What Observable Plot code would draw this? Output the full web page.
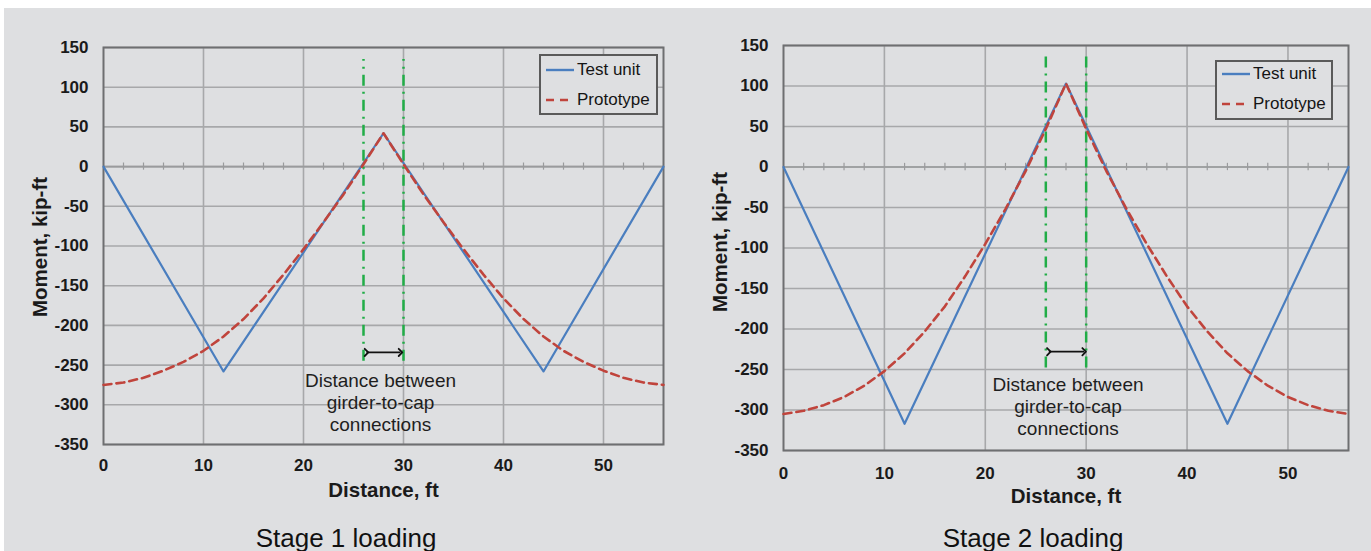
<!DOCTYPE html>
<html>
<head>
<meta charset="utf-8">
<script src="https://cdn.jsdelivr.net/npm/d3@7"></script>
<script src="https://cdn.jsdelivr.net/npm/@observablehq/plot@0.6"></script>
<style>
  html, body { margin: 0; padding: 0; background: #ffffff; }
  body { width: 1371px; height: 551px; position: relative; overflow: hidden; font-family: "Liberation Sans", Arial, sans-serif; }
  #bg { position: absolute; left: 4px; top: 8px; width: 1367px; height: 543px; background: #dedfe1; }
  .panel { position: absolute; top: 0; }
  .caption { position: absolute; top: 525px; font-size: 26px; line-height: 1; color: #111; white-space: nowrap; transform: translateX(-50%); }
  .legend { position: absolute; border: 2px solid #5a5a5a; box-sizing: border-box; background: #dedfe1; }
  .legend .row { position: absolute; left: 0; height: 20px; display: flex; align-items: center; font-size: 17px; color: #151515; white-space: nowrap; }
  .legend svg { display: block; }
</style>
</head>
<body>
<div id="bg"></div>
<div id="p1" class="panel" style="left:0px"></div>
<div id="p2" class="panel" style="left:680px"></div>
<div class="caption" style="left:346px">Stage 1 loading</div>
<div class="caption" style="left:1033px">Stage 2 loading</div>
<script>
// ---- data ----
const testDistance = [0, 12, 28, 44, 56];
const stage1Test = [0, -258, 42, -258, 0];
const stage2Test = [0, -317, 103, -317, 0];

const protoDistance = [0, 2, 4, 6, 8, 10, 12, 14, 16, 18, 20, 22, 24, 26, 28, 30, 32, 34, 36, 38, 40, 42, 44, 46, 48, 50, 52, 54, 56];
const stage1Prototype = [-275, -272, -266, -257, -246, -232, -214, -192, -166, -136, -104, -70, -35, 3, 42, 3, -35, -70, -104, -136, -166, -192, -214, -232, -246, -257, -266, -272, -275];
const stage2Prototype = [-305, -301, -294, -284, -270, -252, -230, -203, -172, -135, -95, -52, -5, 47, 103, 47, -5, -52, -95, -135, -172, -203, -230, -252, -270, -284, -294, -301, -305];

const connectionX = [26, 30];
const stage1ConnRange = [-245, 135];
const stage2ConnRange = [-248, 140];
const stage1Arrow = {x1: 26.3, x2: 29.7, y: -234};
const stage2Arrow = {x1: 26.3, x2: 29.8, y: -228};
const annotationText = "Distance between\ngirder-to-cap\nconnections";
const stage1Annot = {x: 27.7, y: -297};
const stage2Annot = {x: 28.2, y: -295};

const xTicks = [0, 10, 20, 30, 40, 50];
const xGrid = [10, 20, 30, 40, 50];
const yTicks = [-350, -300, -250, -200, -150, -100, -50, 0, 50, 100, 150];
const minorTicks = [2, 4, 6, 8, 12, 14, 16, 18, 22, 24, 26, 28, 32, 34, 36, 38, 42, 44, 46, 48, 52, 54];

const seriesNames = ["Test unit", "Prototype"];
const blue = "#4a7ebf";
const red = "#c0443c";
const green = "#21ad47";

function panel(opts) {
  const test = testDistance.map((x, i) => ({x, y: opts.test[i]}));
  const proto = protoDistance.map((x, i) => ({x, y: opts.proto[i]}));
  const conn = connectionX.map(x => ({x, y1: opts.conn[0], y2: opts.conn[1]}));
  return Plot.plot({
    width: opts.width,
    height: 510,
    marginLeft: 103,
    marginRight: opts.marginRight,
    marginTop: opts.marginTop,
    marginBottom: 510 - opts.bottom,
    style: {background: "transparent", fontFamily: "'Liberation Sans', Arial, sans-serif", fontSize: "17px", fontWeight: "bold", color: "#1a1a1a"},
    x: {domain: [0, 56], ticks: xTicks, tickSize: 0, tickPadding: opts.xPad, tickFormat: d => String(d), label: null},
    y: {domain: [-350, 150], ticks: yTicks, tickSize: 0, tickPadding: 15, tickFormat: d => String(d), label: null},
    marks: [
      Plot.ruleX(xGrid, {stroke: "#a7a8aa", strokeWidth: 1.6}),
      Plot.ruleY(yTicks, {stroke: "#a7a8aa", strokeWidth: 1.6}),
      Plot.ruleY([0], {stroke: "#9a9b9d", strokeWidth: 1.6}),
      Plot.ruleX(minorTicks, {y1: -4.5, y2: 4.5, stroke: "#9a9b9d", strokeWidth: 1.2}),
      Plot.frame({stroke: "#6e6f71", strokeWidth: 2}),
      Plot.ruleX(conn, {x: "x", y1: "y1", y2: "y2", stroke: green, strokeWidth: 2.5, strokeDasharray: "11,6,2,6"}),
      Plot.line(test, {x: "x", y: "y", stroke: blue, strokeWidth: 2.2}),
      Plot.line(proto, {x: "x", y: "y", stroke: red, strokeWidth: 2.6, strokeDasharray: "8,5", curve: "linear"}),
      Plot.link([opts.arrow], {x1: "x1", x2: "x2", y1: "y", y2: "y", stroke: "#111", strokeWidth: 1.8, markerStart: "arrow", markerEnd: "arrow"}),
      Plot.text([annotationText], {x: opts.annot.x, y: opts.annot.y, text: d => d, fontSize: 19, fontWeight: "normal", fill: "#1e1e1e", lineHeight: 1.16, lineAnchor: "middle", textAnchor: "middle"}),
      Plot.text(["Moment, kip-ft"], {text: d => d, frameAnchor: "left", dx: -63, dy: opts.yLabelDy, rotate: -90, fontSize: 20.5, fontWeight: "bold", fill: "#1a1a1a", lineAnchor: "middle", textAnchor: "middle"}),
      Plot.text(["Distance, ft"], {text: d => d, frameAnchor: "bottom", dy: 46, fontSize: 20.5, fontWeight: "bold", fill: "#1a1a1a", lineAnchor: "middle", textAnchor: "middle"})
    ]
  });
}

function legend(container, box) {
  const el = document.createElement("div");
  el.className = "legend";
  el.style.left = box.left + "px";
  el.style.top = box.top + "px";
  el.style.width = box.width + "px";
  el.style.height = box.height + "px";
  seriesNames.forEach((name, i) => {
    const row = document.createElement("div");
    row.className = "row";
    row.style.top = (box.rows[i] - 10) + "px";
    row.style.left = box.lineLeft + "px";
    const dash = i === 0 ? "" : "stroke-dasharray='8,6'";
    const color = i === 0 ? blue : red;
    row.innerHTML = `<svg width="${box.lineLen + 3}" height="20"><line x1="0" x2="${box.lineLen}" y1="10" y2="10" stroke="${color}" stroke-width="${i === 0 ? 2.4 : 2.6}" ${dash}/></svg><span>${name}</span>`;
    el.appendChild(row);
  });
  container.appendChild(el);
}

document.getElementById("p1").appendChild(panel({
  width: 685, marginRight: 22, marginTop: 47, bottom: 444, xPad: 14, yLabelDy: 1,
  test: stage1Test, proto: stage1Prototype, conn: stage1ConnRange, arrow: stage1Arrow, annot: stage1Annot
}));
document.getElementById("p2").appendChild(panel({
  width: 691, marginRight: 23, marginTop: 45, bottom: 450, xPad: 16, yLabelDy: -6,
  test: stage2Test, proto: stage2Prototype, conn: stage2ConnRange, arrow: stage2Arrow, annot: stage2Annot
}));

legend(document.body, {left: 539, top: 54, width: 119, height: 61, rows: [14, 44], lineLeft: 5, lineLen: 28});
legend(document.body, {left: 1215, top: 60, width: 118, height: 60, rows: [12, 42], lineLeft: 5, lineLen: 28});
</script>
</body>
</html>
